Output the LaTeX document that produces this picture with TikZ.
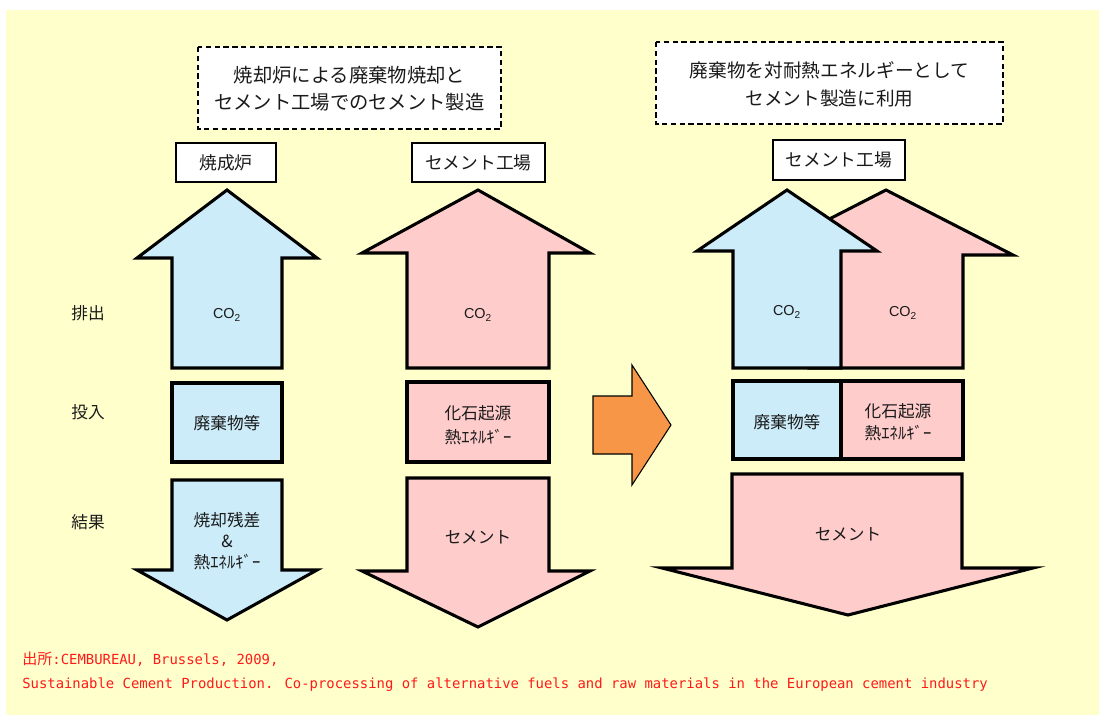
\documentclass[tikz,border=0pt]{standalone}
\usepackage{fontspec}
\setmainfont{Noto Sans CJK JP}
\newfontfamily\cjk{Noto Sans CJK JP}
\newfontfamily\lat{Liberation Sans}
\newfontfamily\mono{DejaVu Sans Mono}
\definecolor{bgyellow}{HTML}{FFFFCC}
\definecolor{blueF}{HTML}{CCECF9}
\definecolor{pinkF}{HTML}{FFCCCC}
\definecolor{orangeF}{HTML}{F79646}
\definecolor{txt}{HTML}{1A1A1A}
\definecolor{redtxt}{HTML}{FF1A1A}
\begin{document}
\begin{tikzpicture}[x=0.75pt,y=-0.75pt,
  arr/.style={draw=black,line width=2.3pt,line join=miter},
  bluearr/.style={arr,fill=blueF},
  pinkarr/.style={arr,fill=pinkF},
  hdrbox/.style={draw=black,line width=1.1pt,fill=white},
  dashbox/.style={draw=black,line width=1.1pt,dash pattern=on 4pt off 2.6pt,fill=white},
  lbl/.style={text=txt,inner sep=0pt,align=center,font=\fontsize{12.5pt}{18pt}\selectfont},
  co/.style={text=txt,inner sep=0pt,font=\lat\fontsize{10.8pt}{12pt}\selectfont},
  hdr/.style={text=txt,inner sep=0pt,font=\fontsize{13.3pt}{16pt}\selectfont},
  side/.style={text=txt,inner sep=0pt,font=\fontsize{12.5pt}{16pt}\selectfont},
  foot/.style={text=redtxt,inner sep=0pt,anchor=west,font=\mono\fontsize{10.43pt}{15pt}\selectfont}]
\useasboundingbox (0,0) rectangle (1099,715);
\fill[bgyellow] (6,10) rectangle (1099,715);

% ---------- top dashed boxes ----------
\draw[dashbox] (198,47) rectangle (501,129);
\node[text=txt,inner sep=0pt,align=center,font=\fontsize{14.5pt}{20.3pt}\selectfont] (t1) at (349.5,88.5)
  {焼却炉による廃棄物焼却と\\セメント工場でのセメント製造};
\draw[dashbox] (656,42) rectangle (1003,124);
\node[text=txt,inner sep=0pt,align=center,font=\fontsize{14pt}{21pt}\selectfont] (t2) at (829.5,84)
  {廃棄物を対耐熱エネルギーとして\\セメント製造に利用};

% ---------- header boxes ----------
\draw[hdrbox] (176,143) rectangle (276,182);
\node[hdr] (h1) at (226,162.5) {焼成炉};
\draw[hdrbox] (412,143) rectangle (545,182);
\node[hdr] (h2) at (478.5,162.5) {セメント工場};
\draw[hdrbox] (773,140) rectangle (905,180);
\node[hdr] (h3) at (839,160) {セメント工場};

% ---------- side labels ----------
\node[side] (s1) at (88,313) {排出};
\node[side] (s2) at (88,412) {投入};
\node[side] (s3) at (88,522) {結果};

% ---------- left column (blue) ----------
\draw[bluearr] (227,190) -- (317,258) -- (282,258) -- (282,368) -- (172,368) -- (172,258) -- (137,258) -- cycle;
\node[co] (c1) at (227,315) {CO\textsubscript{2}};
\draw[bluearr] (172,383) rectangle (282,462);
\node[lbl] (b1) at (227,423) {廃棄物等};
\draw[bluearr] (172,480) -- (282,480) -- (282,570) -- (317,570) -- (227,620) -- (137,570) -- (172,570) -- cycle;
\node[lbl,font=\fontsize{12.5pt}{15.8pt}\selectfont] (d1) at (227,541) {焼却残差\\\&\\熱ｴﾈﾙｷﾞｰ};

% ---------- middle column (pink) ----------
\draw[pinkarr] (478,190) -- (590,253) -- (549,253) -- (549,368) -- (407,368) -- (407,253) -- (362,253) -- cycle;
\node[co] (c2) at (478,315) {CO\textsubscript{2}};
\draw[pinkarr] (407,382) rectangle (549,462);
\node[lbl] (b2) at (478,425) {化石起源\\熱ｴﾈﾙｷﾞｰ};
\draw[pinkarr] (407,478) -- (549,478) -- (549,571) -- (590,571) -- (478,627) -- (362,571) -- (407,571) -- cycle;
\node[lbl] (d2) at (478,537) {セメント};

% ---------- orange transition arrow ----------
\draw[draw=black,line width=0.8pt,fill=orangeF,line join=miter]
  (593,396) -- (632,396) -- (632,365) -- (671,425) -- (632,485) -- (632,454) -- (593,454) -- cycle;

% ---------- right column ----------
\draw[pinkarr] (886,190) -- (1013,255) -- (963,255) -- (963,368) -- (809,368) -- (809,255) -- (759,255) -- cycle;
\draw[bluearr] (787,190) -- (877,251) -- (841,251) -- (841,368) -- (733,368) -- (733,251) -- (697,251) -- cycle;
\node[co] (c3) at (787,312) {CO\textsubscript{2}};
\node[co] (c4) at (903,313) {CO\textsubscript{2}};
\draw[bluearr] (733,381) rectangle (841,459);
\draw[pinkarr] (841,381) rectangle (963,459);
\node[lbl] (b3) at (787,422) {廃棄物等};
\node[lbl,font=\fontsize{12.5pt}{16.5pt}\selectfont] (b4) at (898,422) {化石起源\\熱ｴﾈﾙｷﾞｰ};
\draw[pinkarr] (732,474) -- (962,474) -- (962,568) -- (1033,568) -- (848,615) -- (662,568) -- (732,568) -- cycle;
\node[lbl] (d3) at (848,534) {セメント};

% ---------- source ----------
\node[foot] (f1) at (22,659) {{\cjk\fontsize{11.3pt}{15pt}\selectfont 出所}:CEMBUREAU, Brussels, 2009,};
\node[foot] (f2) at (22,685) {Sustainable Cement Production. Co-processing of alternative fuels and raw materials in the European cement industry};
\end{tikzpicture}
\end{document}
